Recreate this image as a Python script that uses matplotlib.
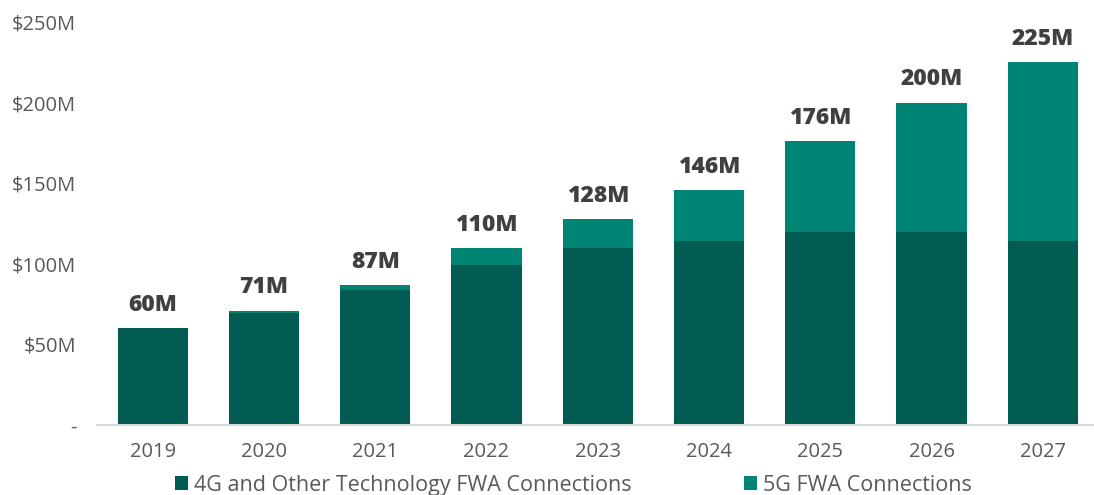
import numpy as np
import matplotlib
matplotlib.use("Agg")
import matplotlib.pyplot as plt

# Chart data
years = ["2019", "2020", "2021", "2022", "2023", "2024", "2025", "2026", "2027"]
other_fwa = [60, 69.5, 84, 99.5, 110, 114, 120, 120, 114]
fiveg_fwa = [0, 1.5, 3, 10.5, 18, 32, 56, 80, 111]
total_labels = ["60M", "71M", "87M", "110M", "128M", "146M", "176M", "200M", "225M"]
y_ticks = [0, 50, 100, 150, 200, 250]
y_tick_labels = ["-", "$50M", "$100M", "$150M", "$200M", "$250M"]

dark_green = "#005C50"
teal = "#008575"
text_grey = "#595959"

plt.rcParams["font.family"] = ["Open Sans", "DejaVu Sans"]

fig = plt.figure(figsize=(10.94, 4.95), dpi=100)
ax = fig.add_axes([0.0887, 0.1414, 0.9113, 0.8142])

x = np.arange(len(years))
width = 0.63
ax.bar(x, other_fwa, width, color=dark_green, label="4G and Other Technology FWA Connections")
ax.bar(x, fiveg_fwa, width, bottom=other_fwa, color=teal, label="5G FWA Connections")

# Totals above each bar
totals = np.array(other_fwa) + np.array(fiveg_fwa)
for xi, tot, lab in zip(x, totals, total_labels):
    ax.annotate(lab, (xi, tot), xytext=(0, 8), textcoords="offset points",
                ha="center", va="bottom", fontsize=16.5, fontweight="heavy", color="#404040")

ax.set_xlim(-0.5, 8.46)
ax.set_ylim(0, 250)
ax.set_xticks(x)
ax.set_xticklabels(years)
ax.set_yticks(y_ticks)
ax.set_yticklabels(y_tick_labels)
ax.tick_params(axis="both", length=0, labelsize=14.5, labelcolor=text_grey)
ax.tick_params(axis="y", pad=15)
ax.tick_params(axis="x", pad=12)

for side in ["top", "right", "left"]:
    ax.spines[side].set_visible(False)
ax.spines["bottom"].set_color("#d9d9d9")
ax.spines["bottom"].set_linewidth(1.5)

fig.legend(loc="center", bbox_to_anchor=(0.524, 0.02), ncol=2, frameon=False,
           fontsize=15.5, handlelength=0.6, handleheight=0.6, handletextpad=0.3,
           columnspacing=5.2, labelcolor=text_grey)

fig.savefig("out.png", dpi=100)
